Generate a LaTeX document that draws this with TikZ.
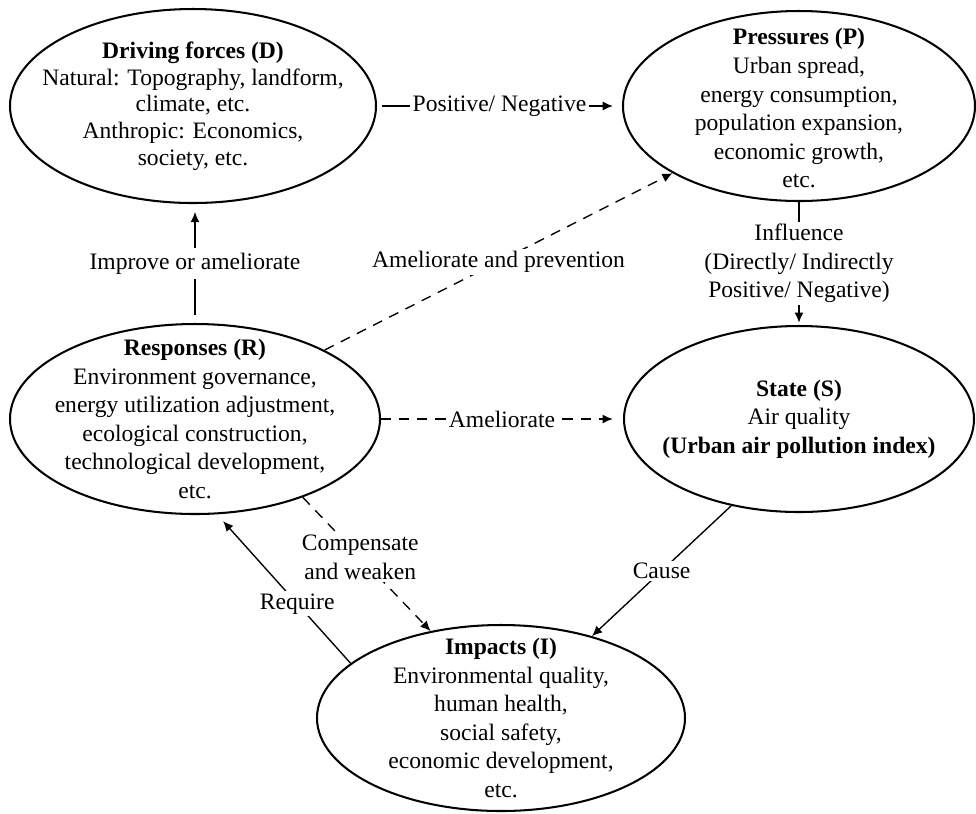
\documentclass[tikz,border=0pt]{standalone}
\usepackage{fontspec}
\setmainfont{Liberation Serif}
\usetikzlibrary{shapes.geometric,arrows.meta}

\tikzset{
  stage/.style n args={2}{draw, ellipse, line width=0.9pt, inner sep=0pt,
    minimum width={#1*0.0155cm}, minimum height={#2*0.0155cm}},
  stagetext/.style={align=center, font=\fontsize{10.4}{12.6}\selectfont},
  link/.style={line width=0.6pt, -{Latex[length=4.5pt,width=4pt]}},
  weak/.style={link, dash pattern=on 4.5pt off 3.5pt},
  tag/.style={fill=white, inner sep=1pt, align=center, font=\fontsize{10.4}{12.6}\selectfont},
}

\begin{document}
\begin{tikzpicture}[x=0.0155cm, y=-0.0155cm]
        \useasboundingbox (0,0) rectangle (976,813);
        % DPSIR ellipses
        \node [stage={366}{194}] (D) at (193,106) {};
        \node [stage={352}{190}] (P) at (799,106) {};
        \node [stage={370}{190}] (R) at (195,419) {};
        \node [stage={350}{186}] (S) at (799,419) {};
        \node [stage={368}{186}] (I) at (501,718) {};
        % texts inside
        \node [stagetext, font=\fontsize{10.4}{11.8}\selectfont] (Dtext) at (D) {\textbf{Driving forces (D)}\\Natural: Topography, landform,\\climate, etc.\\Anthropic: Economics,\\society, etc.};
        \node [stagetext] (Ptext) at ([yshift=-1pt]P.center) {\textbf{Pressures (P)}\\Urban spread,\\energy consumption,\\population expansion,\\economic growth,\\etc.};
        \node [stagetext] (Rtext) at (R) {\textbf{Responses (R)}\\Environment governance,\\energy utilization adjustment,\\ecological construction,\\technological development,\\etc.};
        \node [stagetext] (Stext) at (S) {\textbf{State (S)}\\Air quality\\\textbf{(Urban air pollution index)}};
        \node [stagetext] (Itext) at (I) {\textbf{Impacts (I)}\\Environmental quality,\\human health,\\social safety,\\economic development,\\etc.};
        % connectors
        \draw [link, shorten <=2pt, shorten >=4pt] (D.east) -- node [tag] {Positive/ Negative} (P.west);
        \draw [link, shorten >=1pt] (P.south) -- node [tag] {Influence\\(Directly/ Indirectly\\Positive/ Negative)} (S.north);
        \draw [link, shorten <=3.5pt, shorten >=3.5pt] (R.north) -- node [tag, inner sep=2pt] {Improve or ameliorate} (R.north |- D.south);
        \draw [weak] (R.28) -- node [tag] {Ameliorate and prevention} (P.208);
        \draw [weak, shorten >=4.5pt] (R.east) -- node [tag] {Ameliorate} (S.west);
        \draw [weak] (R.-36) -- node [tag, pos=0.45] {Compensate\\and weaken} (I.129);
        \draw [link, shorten >=4pt] (I.160) -- node [tag, pos=0.4] {Require} (R.-77);
        \draw [link] (S.-128) -- node [tag] {Cause} (I.42);
\end{tikzpicture}
\end{document}
